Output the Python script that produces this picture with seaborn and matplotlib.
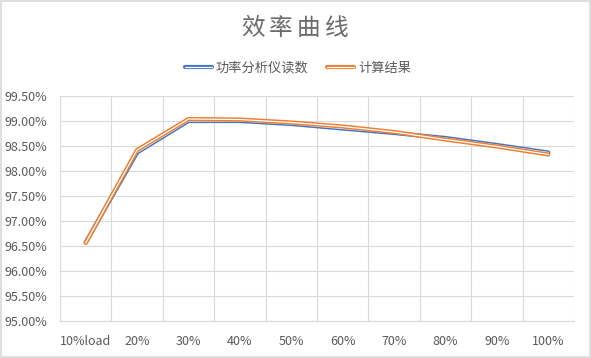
import matplotlib
matplotlib.use("Agg")
import matplotlib.pyplot as plt
import matplotlib.patheffects as pe
from matplotlib.lines import Line2D
from matplotlib.ticker import FuncFormatter, FixedLocator
import seaborn as sns
import pandas as pd

categories = ["10%load", "20%", "30%", "40%", "50%", "60%", "70%", "80%", "90%", "100%"]
meter_vals = [96.57, 98.37, 99.00, 99.00, 98.94, 98.85, 98.76, 98.66, 98.52, 98.37]
calc_vals = [96.56, 98.42, 99.04, 99.03, 98.97, 98.89, 98.78, 98.63, 98.49, 98.33]
series_names = ["功率分析仪读数", "计算结果"]
title_text = "效率曲线"

sns.set_theme(style="white")
plt.rcParams['font.family'] = ['Noto Sans CJK SC', 'DejaVu Sans']

df = pd.DataFrame({
    "x": list(range(len(categories))) * 2,
    "y": meter_vals + calc_vals,
    "s": [series_names[0]] * len(categories) + [series_names[1]] * len(categories),
})

colors = {series_names[0]: "#4472C4", series_names[1]: "#ED7D31"}
gray = "#595959"
gridc = "#D9D9D9"

fig = plt.figure(figsize=(5.91, 3.58), dpi=100)
ax = fig.add_axes([60/591, 1-321/358, (574-60)/591, (321-96)/358])

for name in series_names:
    sub = df[df.s == name]
    sns.lineplot(data=sub, x="x", y="y", ax=ax, color="white", lw=0.9,
                 legend=False, estimator=None, sort=False)
    ln = ax.lines[-1]
    ln.set_path_effects([pe.Stroke(linewidth=3.0, foreground=colors[name]), pe.Normal()])
    ln.set_zorder(3)

ax.set_xlim(-0.5, len(categories) - 0.5)
ax.set_ylim(95.0, 99.5)
ax.set_xticks(range(len(categories)))
ax.set_xticklabels(categories)
ax.xaxis.set_minor_locator(FixedLocator([i - 0.5 for i in range(len(categories) + 1)]))
ax.set_yticks([95.0 + 0.5 * i for i in range(10)])
ax.yaxis.set_major_formatter(FuncFormatter(lambda v, p: f"{v:.2f}%"))
ax.grid(False)
ax.grid(True, which="minor", axis="x", color=gridc, lw=0.8)
ax.grid(True, which="major", axis="y", color=gridc, lw=0.8)
ax.tick_params(axis="both", which="both", length=0, colors=gray, labelsize=9)
ax.tick_params(axis="x", pad=10)
ax.tick_params(axis="y", pad=9)
for s in ["left", "right", "top"]:
    ax.spines[s].set_visible(False)
ax.spines["bottom"].set_color(gridc)
ax.spines["bottom"].set_linewidth(0.8)
ax.set_xlabel("")
ax.set_ylabel("")

# title with Excel-like letter spacing
title_cx = 294.5
step = 28.0
n = len(title_text)
for i, ch in enumerate(title_text):
    xpix = title_cx + (i - (n - 1) / 2) * step
    fig.text(xpix / 591, 1 - 28.5 / 358, ch, ha="center", va="center",
             fontsize=17, color="#6B6B6B")

handles = []
for name in series_names:
    h = Line2D([0], [0], color="white", lw=0.9)
    h.set_path_effects([pe.Stroke(linewidth=3.0, foreground=colors[name]), pe.Normal()])
    handles.append(h)
leg = fig.legend(handles, series_names, loc="center", bbox_to_anchor=(298/591, 1-68/358),
                 ncol=2, frameon=False, fontsize=9.5, labelcolor=gray,
                 handlelength=2.05, handletextpad=0.3, columnspacing=1.45)

fig.add_artist(plt.Rectangle((0.002, 0.003), 0.996, 0.994, transform=fig.transFigure,
                             fill=False, edgecolor="#D9D9D9", lw=1.2))

fig.savefig("out.png", dpi=100)
